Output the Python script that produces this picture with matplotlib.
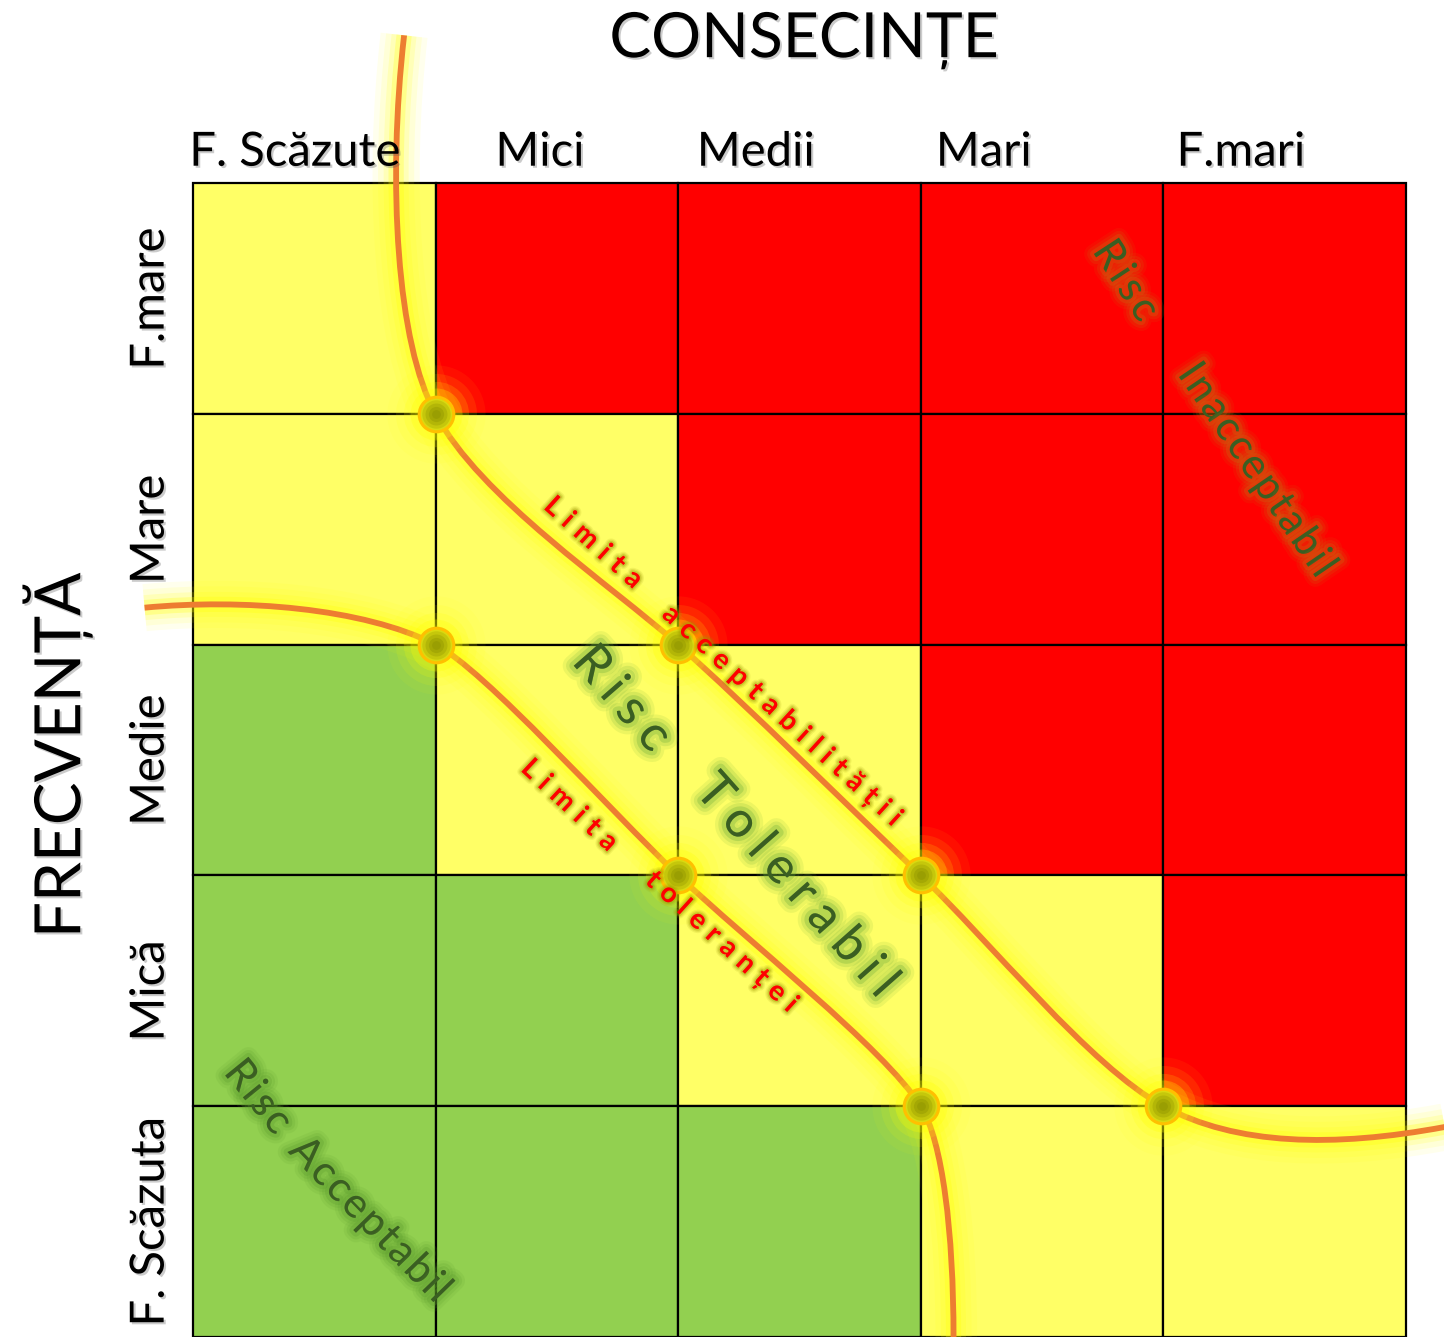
import numpy as np
import matplotlib.pyplot as plt
import matplotlib.patheffects as pe
from matplotlib.patches import Rectangle, PathPatch
from matplotlib.path import Path
from matplotlib.font_manager import FontProperties

FONT = ['Lato', 'DejaVu Sans']
plt.rcParams['font.family'] = FONT

# --- data -------------------------------------------------------------
cons_labels = ["F. Scăzute", "Mici", "Medii", "Mari", "F.mari"]
freq_labels = ["F.mare", "Mare", "Medie", "Mică", "F. Scăzuta"]   # top -> bottom

# risk class of each cell, rows top -> bottom, columns left -> right
risk_matrix = [
    ["Y", "R", "R", "R", "R"],
    ["Y", "Y", "R", "R", "R"],
    ["G", "Y", "Y", "R", "R"],
    ["G", "G", "Y", "Y", "R"],
    ["G", "G", "G", "Y", "Y"],
]
cell_colors = {"Y": "#FFFF66", "R": "#FF0000", "G": "#92D050"}

# grid corners where the two limits cross (cell units, y up)
acc_nodes_x = [1, 2, 3, 4]
acc_nodes_y = [4, 3, 2, 1]
tol_nodes_x = [1, 2, 3]
tol_nodes_y = [3, 2, 1]

# cubic bezier control polygons of the limit curves (cell units)
acc_curve_x = [0.87, 0.80, 0.84, 1.00, 1.18, 1.72, 2.00, 2.28, 2.72, 3.00, 3.28, 3.70, 4.00, 4.30, 4.70, 5.16]
acc_curve_y = [5.64, 5.00, 4.30, 4.00, 3.64, 3.26, 3.00, 2.74, 2.28, 2.00, 1.72, 1.17, 1.00, 0.83, 0.82, 0.91]
tol_curve_x = [-0.20, 0.20, 0.70, 1.00, 1.20, 1.72, 2.00, 2.28, 2.85, 3.00, 3.09, 3.135, 3.135]
tol_curve_y = [3.16, 3.20, 3.16, 3.00, 2.893, 2.28, 2.00, 1.72, 1.25, 1.00, 0.85, 0.45, 0.00]

# --- figure -----------------------------------------------------------
fig = plt.figure(figsize=(14.44, 13.37), dpi=100)
ax = fig.add_axes([0, 0, 1, 1])
ax.set_xlim(-0.796, 5.157)
ax.set_ylim(0, 5.793)
ax.axis('off')
n = len(risk_matrix)

for i, row in enumerate(risk_matrix):
    for j, code in enumerate(row):
        ax.add_patch(Rectangle((j, n - 1 - i), 1, 1, facecolor=cell_colors[code],
                               edgecolor='black', lw=1.6, zorder=1))


def bezier_path(xs, ys):
    codes = [Path.MOVETO] + [Path.CURVE4] * (len(xs) - 1)
    return Path(np.column_stack([xs, ys]), codes)


for xs, ys in [(acc_curve_x, acc_curve_y), (tol_curve_x, tol_curve_y)]:
    p = bezier_path(xs, ys)
    for lw, a in [(34, 0.07), (26, 0.09), (18, 0.14), (11, 0.25)]:
        ax.add_patch(PathPatch(p, fc='none', ec='#FFFF00', lw=lw, alpha=a,
                               capstyle='butt', zorder=3, clip_on=False))
    ax.add_patch(PathPatch(p, fc='none', ec='#ED7D31', lw=4.2, zorder=4, clip_on=False))

nodes_x = acc_nodes_x + tol_nodes_x
nodes_y = acc_nodes_y + tol_nodes_y
for s, a in [(5000, 0.06), (3400, 0.1), (2200, 0.16), (1400, 0.25)]:
    ax.scatter(nodes_x, nodes_y, s=s, color='#FFFF00', alpha=a, lw=0, zorder=5)
ax.scatter(nodes_x, nodes_y, s=620, color='#DADA10', edgecolor='#FFC000', lw=2.2, zorder=6)
for s, a in [(420, 0.25), (250, 0.3), (120, 0.35), (40, 0.4)]:
    ax.scatter(nodes_x, nodes_y, s=s, color='#8A9000', alpha=a, lw=0, zorder=6)

# --- axis texts --------------------------------------------------------
shadow = [pe.withSimplePatchShadow(offset=(1.5, -1.5), shadow_rgbFace='#555555', alpha=0.3)]
ax.text(2.52, 5.62, "CONSECINȚE", fontsize=45, ha='center', va='center',
        path_effects=shadow, zorder=7)
ax.text(-0.56, 2.52, "FRECVENȚĂ", fontsize=46, rotation=90,
        ha='center', va='center', path_effects=shadow, zorder=7)

cons_label_x = [0.42, 1.43, 2.32, 3.26, 4.32]
for x, lab in zip(cons_label_x, cons_labels):
    ax.text(x, 5.075, lab, fontsize=34, ha='center', va='baseline', path_effects=shadow, zorder=7)
for i, lab in enumerate(freq_labels):
    ax.text(-0.175, n - 0.5 - i, lab, fontsize=34, rotation=90, ha='center', va='center',
            path_effects=shadow, zorder=7)

# --- zone texts --------------------------------------------------------
renderer = fig.canvas.get_renderer()


def track_text(s, p0, p1, size, color, effects, weight='normal'):
    """letters spread evenly between the centres of the first and last glyph"""
    fp = FontProperties(family=FONT, size=size, weight=weight)
    a = ax.transData.transform(p0)
    b = ax.transData.transform(p1)
    d = b - a
    length = np.hypot(*d)
    u = d / length
    ang = np.degrees(np.arctan2(d[1], d[0]))
    w = [renderer.get_text_width_height_descent(c, fp, ismath=False)[0] for c in s]
    natural = sum(w) - w[0] / 2 - w[-1] / 2
    gap = (length - natural) / (len(s) - 1)
    pos = 0.0
    inv = ax.transData.inverted()
    for k, c in enumerate(s):
        if k > 0:
            pos += w[k - 1] / 2 + gap + w[k] / 2
        x, y = inv.transform(a + u * pos)
        ax.text(x, y, c, fontproperties=fp, rotation=ang, rotation_mode='anchor',
                ha='center', va='center_baseline', color=color, path_effects=effects, zorder=7)


def glow(col, width):
    return [pe.Stroke(linewidth=width * 1.0, foreground=col, alpha=0.12),
            pe.Stroke(linewidth=width * 0.7, foreground=col, alpha=0.18),
            pe.Stroke(linewidth=width * 0.4, foreground=col, alpha=0.3),
            pe.Normal()]


text_green = '#3A5E22'
track_text("Risc", (1.657, 2.925), (1.913, 2.617), 36, text_green, glow('#6FAE3A', 16))
track_text("Tolerabil", (2.160, 2.370), (2.865, 1.534), 36, text_green, glow('#6FAE3A', 16))
track_text("Risc", (0.206, 1.144), (0.36, 0.945), 30, text_green, glow('#5E9E2E', 14))
track_text("Acceptabil", (0.475, 0.805), (1.031, 0.204), 30, text_green, glow('#5E9E2E', 14))
track_text("Risc", (3.788, 4.696), (3.933, 4.463), 30, text_green, glow('#C86A10', 14))
track_text("Inacceptabil", (4.122, 4.190), (4.675, 3.337), 30, text_green, glow('#C86A10', 14))

red_glow = glow('#9A9400', 6)
track_text("Limita", (1.492, 3.605), (1.822, 3.293), 20, '#FF0000', red_glow, weight='bold')
track_text("acceptabilității", (1.979, 3.137), (2.902, 2.253), 20, '#FF0000', red_glow, weight='bold')
track_text("Limita", (1.398, 2.468), (1.719, 2.154), 20, '#FF0000', red_glow, weight='bold')
track_text("toleranței", (1.904, 1.989), (2.473, 1.447), 20, '#FF0000', red_glow, weight='bold')

fig.savefig("out.png", dpi=100, facecolor='white')
